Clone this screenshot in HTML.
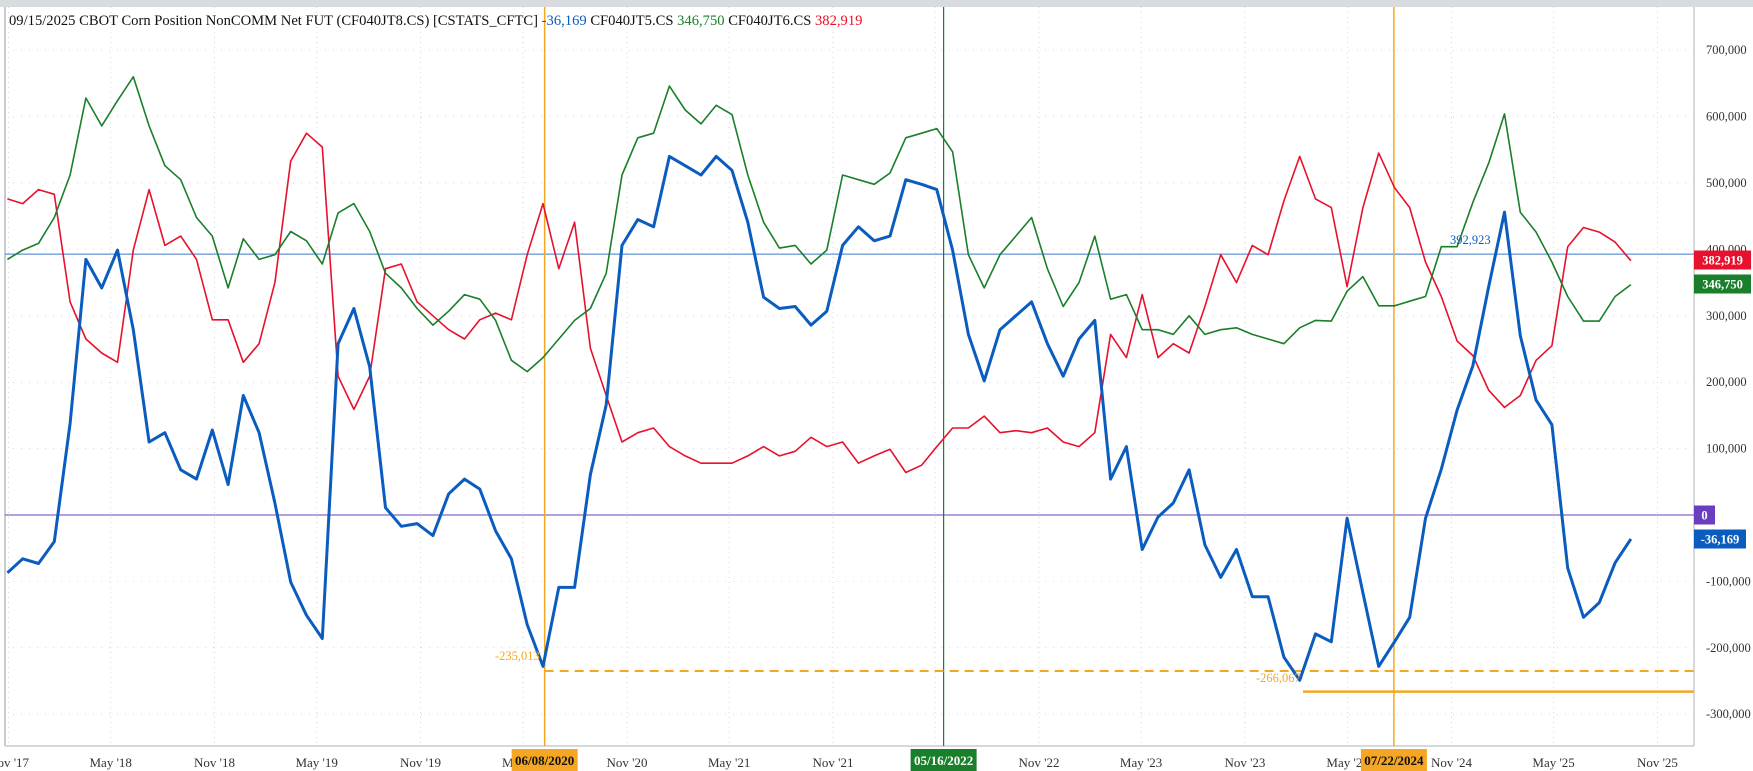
<!DOCTYPE html>
<html><head><meta charset="utf-8">
<style>
html,body{margin:0;padding:0;background:#fff;}
svg{display:block;font-family:"Liberation Serif",serif;}
</style></head>
<body>
<svg id="chart" width="1753" height="771" viewBox="0 0 1753 771" xmlns="http://www.w3.org/2000/svg">
<rect x="0" y="0" width="1753" height="771" fill="#fff"/>
<rect x="0" y="0" width="1753" height="7" fill="#d9dcdf"/>
<line x1="5" y1="7" x2="5" y2="746" stroke="#c8cbcf" stroke-width="2"/>
<line x1="1694" y1="7" x2="1694" y2="746" stroke="#c8cbcf" stroke-width="1.5"/>
<line x1="5" y1="746" x2="1694" y2="746" stroke="#c8cbcf" stroke-width="1.5"/>
<g id="grid"></g>
<g id="refs"></g>
<g id="series"></g>
<g id="axes"></g>
<text x="9" y="25" font-size="14.6"><tspan fill="#111">09/15/2025 CBOT Corn Position NonCOMM Net FUT (CF040JT8.CS) [CSTATS_CFTC] </tspan><tspan fill="#0a5cbf">-36,169</tspan><tspan fill="#111"> CF040JT5.CS </tspan><tspan fill="#1a7f2a">346,750</tspan><tspan fill="#111"> CF040JT6.CS </tspan><tspan fill="#e8112d">382,919</tspan></text>
</svg>
<script>
const startDate = '2017-10-30';
const endDate = '2025-09-15';
const blueValues = [-87,-66,-73,-40,138,385,342,399,279,110,124,68,54,128,46,180,124,18,-101,-151,-186,258,311,223,11,-17,-13,-31,32,
54,39,-24,-66,-165,-228,-109,-109,61,166,406,445,434,540,526,512,540,519,441,328,311,314,286,307,406,434,413,420,
505,498,490,399,272,202,279,300,321,258,209,265,293,54,103,-52,-3,18,68,-45,-94,-52,-123,-123,-214,-249,-179,
-191,-5,-117,-228,-191,-154,-5,69,158,225,344,456,270,173,136,-80,-154,-132,-72,-36];
const redValues = [476,469,490,483,321,265,244,230,399,490,406,420,385,294,294,230,258,350,533,575,554,209,159,209,371,378,321,300,279,
265,294,304,294,392,469,371,441,251,180,110,124,131,103,89,78,78,78,89,103,89,96,117,103,110,78,89,99,
64,75,103,131,131,149,124,127,124,131,110,103,124,272,237,332,237,258,244,314,392,350,406,392,473,540,476,
463,344,463,545,493,463,381,329,262,240,188,162,180,233,255,404,433,426,411,383];
const greenValues = [385,399,409,448,512,628,586,624,660,586,526,505,448,420,342,416,385,392,427,413,378,455,469,427,364,342,311,286,307,
332,325,293,233,216,237,265,293,311,364,512,568,575,646,610,589,617,603,512,441,402,406,378,399,512,505,498,515,
568,575,582,547,392,342,392,420,448,371,314,350,420,325,332,279,279,272,300,272,279,282,272,265,258,282,293,
292,337,359,315,315,322,329,404,404,471,530,604,456,426,381,329,292,292,329,347];
const yTicks = [700000,600000,500000,400000,300000,200000,100000,0,-100000,-200000,-300000];
const yTickLabels = ['700,000','600,000','500,000','400,000','300,000','200,000','100,000','0','-100,000','-200,000','-300,000'];
const xTickDates = ['2017-11-01','2018-05-01','2018-11-01','2019-05-01','2019-11-01','2020-05-01','2020-11-01','2021-05-01','2021-11-01','2022-05-01','2022-11-01','2023-05-01','2023-11-01','2024-05-01','2024-11-01','2025-05-01','2025-11-01'];
const xTickLabels = ["Nov '17","May '18","Nov '18","May '19","Nov '19","May '20","Nov '20","May '21","Nov '21","May '22","Nov '22","May '23","Nov '23","May '24","Nov '24","May '25","Nov '25"];
const markerDates = ['2020-06-08','2022-05-16','2024-07-22'];
const markerLabels = ['06/08/2020','05/16/2022','07/22/2024'];
const lowValues = [-235013,-266067];
const lowLabels = ['-235,013','-266,067'];
const highValue = 392923;
const highLabel = '392,923';

const NS='http://www.w3.org/2000/svg';
const DAY=86400000;
const t0=Date.parse('2018-05-01'), x0=110.7, pxPerDay=0.5643;
function xScale(d){return x0+(Date.parse(d)-t0)/DAY*pxPerDay;}
function yScale(v){return 515-v*0.000664;}
function mk(tag,attrs,parent){const e=document.createElementNS(NS,tag);for(const k in attrs)e.setAttribute(k,attrs[k]);parent.appendChild(e);return e;}
const n=blueValues.length;
const sMs=Date.parse(startDate), eMs=Date.parse(endDate);
const dates=[];
for(let i=0;i<n;i++){dates.push(new Date(sMs+(eMs-sMs)*i/(n-1)).toISOString().slice(0,10));}

const grid=document.getElementById('grid');
yTicks.forEach((v,i)=>{
  const l=mk('line',{x1:5,x2:1694,y1:yScale(v),y2:yScale(v),stroke:'#d4d6d9','stroke-width':1,'stroke-dasharray':'1 7'},grid);
  
  
});
xTickDates.forEach((d,i)=>{
  const x=xScale(d);
  const l=mk('line',{x1:x,x2:x,y1:7,y2:746,stroke:'#d4d6d9','stroke-width':1,'stroke-dasharray':'1 4'},grid);
  
  
});

const refs=document.getElementById('refs');
const zl=mk('line',{x1:5,x2:1694,y1:yScale(0),y2:yScale(0),stroke:'#6a3fbf','stroke-width':1},refs);


const hl=mk('line',{x1:5,x2:1694,y1:yScale(highValue),y2:yScale(highValue),stroke:'#3b78c9','stroke-width':1},refs);


const markerColors=['#f5a623','#1a7f2a','#f5a623'];
markerDates.forEach((d,i)=>{
  const x=xScale(d);
  const l=mk('line',{x1:x,x2:x,y1:7,y2:746,stroke:markerColors[i],'stroke-width':i==1?1.2:1.5},refs);
  
  
});
const d1=mk('line',{x1:xScale(markerDates[0]),x2:1694,y1:yScale(lowValues[0]),y2:yScale(lowValues[0]),stroke:'#f5a623','stroke-width':2,'stroke-dasharray':'9 6'},refs);


const d2=mk('line',{x1:xScale('2024-02-12'),x2:1694,y1:yScale(lowValues[1]),y2:yScale(lowValues[1]),stroke:'#f5a623','stroke-width':2.5},refs);



const series=document.getElementById('series');
function drawSeries(vals,color,w,name){
  const pts=vals.map((v,i)=>xScale(dates[i]).toFixed(1)+','+yScale(v*1000).toFixed(1)).join(' ');
  const p=mk('polyline',{points:pts,fill:'none',stroke:color,'stroke-width':w,'stroke-linejoin':'round'},series);
  
  
}
drawSeries(redValues,'#e8112d',1.6,'series-cf040jt6');
drawSeries(greenValues,'#1a7f2a',1.6,'series-cf040jt5');
drawSeries(blueValues,'#0a5cbf',3,'series-cf040jt8');

const axes=document.getElementById('axes');
yTicks.forEach((v,i)=>{
  const t=mk('text',{x:1706,y:yScale(v)+4,'font-size':12.5,fill:'#333'},axes);
  t.textContent=yTickLabels[i];
  
  
});
xTickDates.forEach((d,i)=>{
  const t=mk('text',{x:xScale(d),y:767,'font-size':13,fill:'#333','text-anchor':'middle'},axes);
  t.textContent=xTickLabels[i];
  
  
});
markerDates.forEach((d,i)=>{
  const x=xScale(d);
  const r=mk('rect',{x:x-33,y:749,width:66,height:22,fill:markerColors[i]},axes);
  
  
  const t=mk('text',{x:x,y:765,'font-size':13,'font-weight':'bold',fill:i==1?'#fff':'#111','text-anchor':'middle'},axes);
  t.textContent=markerLabels[i];
  
  
});
const l1=mk('text',{x:495,y:660,'font-size':12.5,fill:'#f5a623'},axes);
l1.textContent=lowLabels[0];


const l2=mk('text',{x:1256,y:682,'font-size':12.5,fill:'#f5a623'},axes);
l2.textContent=lowLabels[1];


const l3=mk('text',{x:1450,y:244,'font-size':12.5,fill:'#0a5cbf'},axes);
l3.textContent=highLabel;



const lastBoxes=[[redValues[n-1],'#e8112d','382,919',1694,57],[greenValues[n-1],'#1a7f2a','346,750',1694,57],[0,'#6a3fbf','0',1694,21],[blueValues[n-1],'#0a5cbf','-36,169',1694,52]];
const boxY=[260,284,515,539];
lastBoxes.forEach((b,i)=>{
  const r=mk('rect',{x:b[3],y:boxY[i]-9.5,width:b[4],height:19,fill:b[1]},axes);
  
  
  const t=mk('text',{x:b[3]+b[4]/2,y:boxY[i]+4.5,'font-size':12.5,'font-weight':'bold',fill:'#fff','text-anchor':'middle'},axes);
  t.textContent=b[2];
  
  
});
</script>
</body></html>
